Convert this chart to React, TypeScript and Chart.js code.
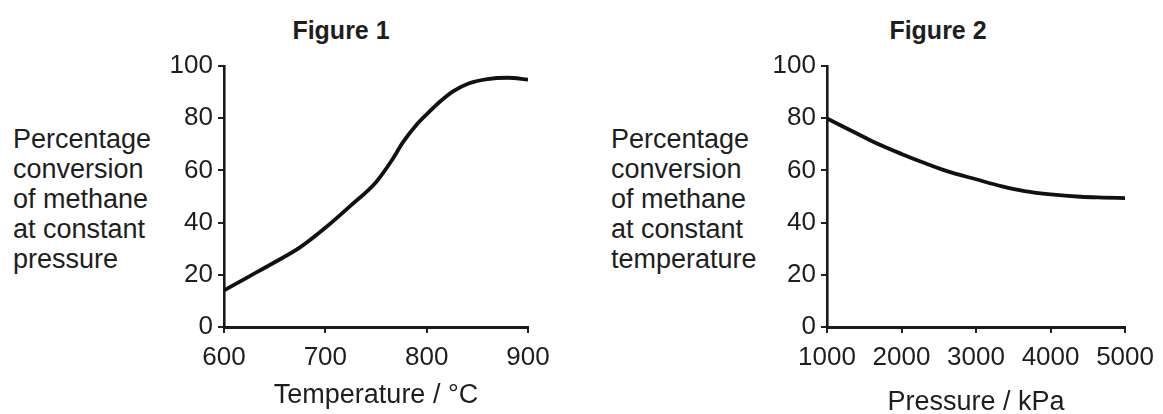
import React, { useEffect, useRef } from "react";
import { Chart, registerables } from "chart.js";

Chart.register(...registerables);

// ---------- Data ----------
const fig1Temperatures = [600, 625, 650, 675, 700, 725, 750, 765, 777, 790, 800, 813, 826, 842, 860, 880, 900];
const fig1Conversion = [14, 19.4, 24.8, 30.5, 38, 46.5, 55.5, 63.5, 71, 77.5, 81.5, 86.3, 90.3, 93.4, 95, 95.5, 94.8];

const fig2Pressures = [1000, 1300, 1650, 2000, 2300, 2600, 3000, 3350, 3650, 4000, 4400, 4700, 5000];
const fig2Conversion = [79.9, 75.6, 70.6, 66.3, 62.9, 59.8, 56.6, 53.9, 52.1, 50.8, 49.9, 49.6, 49.4];

const yTicks = [0, 20, 40, 60, 80, 100];
const fig1XTicks = [600, 700, 800, 900];
const fig2XTicks = [1000, 2000, 3000, 4000, 5000];

const fig1Title = "Figure 1";
const fig2Title = "Figure 2";
const fig1XTitle = "Temperature / °C";
const fig2XTitle = "Pressure / kPa";
const fig1YLabel = ["Percentage", "conversion", "of methane", "at constant", "pressure"];
const fig2YLabel = ["Percentage", "conversion", "of methane", "at constant", "temperature"];

// ---------- Styling ----------
const FONT = "'Liberation Sans', Arial, Helvetica, sans-serif";
const INK = "#1e1e1e";
const CANVAS_H = 414;

type ChartProps = {
  left: number;
  width: number;
  xs: number[];
  ys: number[];
  xTicks: number[];
  xTitle: string;
  yAxisWidth: number;
  padRight: number;
  titlePadBottom: number;
};

function LineChart(p: ChartProps) {
  const ref = useRef<HTMLCanvasElement>(null);
  useEffect(() => {
    if (!ref.current) return;
    const xMin = p.xTicks[0];
    const xMax = p.xTicks[p.xTicks.length - 1];
    const chart = new Chart(ref.current, {
      type: "line",
      data: {
        datasets: [
          {
            data: p.xs.map((x, i) => ({ x, y: p.ys[i] })),
            borderColor: "#111",
            borderWidth: 3.8,
            pointRadius: 0,
            fill: false,
            cubicInterpolationMode: "monotone",
          },
        ],
      },
      options: {
        animation: false,
        responsive: false,
        devicePixelRatio: 1,
        layout: { padding: { top: 66, right: p.padRight, bottom: 0, left: 0 } },
        plugins: { legend: { display: false }, tooltip: { enabled: false } },
        scales: {
          x: {
            type: "linear",
            min: xMin,
            max: xMax,
            afterBuildTicks: (s: any) => {
              s.ticks = p.xTicks.map((v) => ({ value: v }));
            },
            afterFit: (s: any) => {
              s.height = 87;
            },
            ticks: {
              color: INK,
              font: { family: FONT, size: 26, lineHeight: 1.2 },
              padding: 9,
              maxRotation: 0,
              autoSkip: false,
              callback: (v: any) => String(v),
            },
            grid: { drawOnChartArea: false, drawTicks: true, tickLength: 6, lineWidth: 2, color: "#222" },
            border: { display: true, color: "#1a1a1a", width: 3 },
            title: {
              display: true,
              text: p.xTitle,
              color: INK,
              font: { family: FONT, size: 27, lineHeight: 0.8 },
              padding: { top: 0, bottom: p.titlePadBottom },
            },
          },
          y: {
            type: "linear",
            position: "left",
            min: 0,
            max: 100,
            afterBuildTicks: (s: any) => {
              s.ticks = yTicks.map((v) => ({ value: v }));
            },
            afterFit: (s: any) => {
              s.width = p.yAxisWidth;
            },
            ticks: {
              color: INK,
              font: { family: FONT, size: 26, lineHeight: 1.2 },
              padding: 5,
              callback: (v: any) => String(v),
            },
            grid: { drawOnChartArea: false, drawTicks: true, tickLength: 6, lineWidth: 2, color: "#222" },
            border: { display: true, color: "#1a1a1a", width: 2.6 },
          },
        },
      } as any,
    });
    return () => chart.destroy();
  }, []);
  return (
    <canvas
      ref={ref}
      width={p.width}
      height={CANVAS_H}
      style={{ position: "absolute", left: p.left, top: 0, width: p.width, height: CANVAS_H }}
    />
  );
}

function SideLabel({ left, lines }: { left: number; lines: string[] }) {
  return (
    <div
      style={{
        position: "absolute",
        left,
        top: 123.6,
        fontSize: 27,
        lineHeight: "30px",
        whiteSpace: "nowrap",
      }}
    >
      {lines.map((l, i) => (
        <div key={i}>{l}</div>
      ))}
    </div>
  );
}

function FigTitle({ center, text }: { center: number; text: string }) {
  return (
    <div
      style={{
        position: "absolute",
        left: center - 100,
        width: 200,
        top: 17.5,
        textAlign: "center",
        fontWeight: "bold",
        fontSize: 25,
        lineHeight: 1,
      }}
    >
      {text}
    </div>
  );
}

export default function App() {
  return (
    <div
      style={{
        position: "absolute",
        left: 0,
        top: 0,
        width: 1163,
        height: 414,
        overflow: "hidden",
        background: "#fff",
        fontFamily: FONT,
        color: INK,
      }}
    >
      <FigTitle center={341} text={fig1Title} />
      <FigTitle center={938} text={fig2Title} />
      <SideLabel left={13} lines={fig1YLabel} />
      <SideLabel left={611} lines={fig2YLabel} />
      <LineChart
        left={160}
        width={420}
        xs={fig1Temperatures}
        ys={fig1Conversion}
        xTicks={fig1XTicks}
        xTitle={fig1XTitle}
        yAxisWidth={64}
        padRight={52}
        titlePadBottom={7.6}
      />
      <LineChart
        left={760}
        width={403}
        xs={fig2Pressures}
        ys={fig2Conversion}
        xTicks={fig2XTicks}
        xTitle={fig2XTitle}
        yAxisWidth={67}
        padRight={33}
        titlePadBottom={0.9}
      />
    </div>
  );
}
